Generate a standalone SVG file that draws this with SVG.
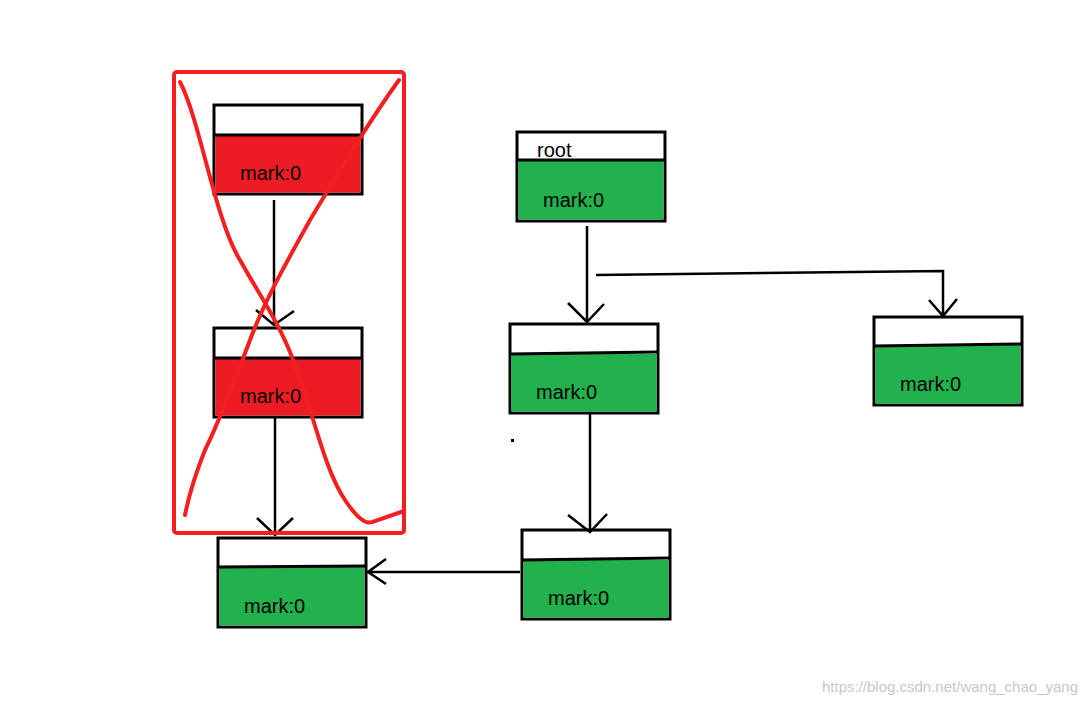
<svg xmlns="http://www.w3.org/2000/svg" width="1087" height="704" viewBox="0 0 1087 704">
<style>
.box{stroke:#000;stroke-width:3}
.g{fill:#22b14c}.r{fill:#ed1c24}
.t{font-family:"Liberation Sans",Arial,sans-serif;font-size:20px;fill:#000}
.c{fill:none;stroke:#000;stroke-width:2.5}
.x{fill:none;stroke:#f51f1f;stroke-width:4;stroke-linecap:round}
</style>
<rect width="1087" height="704" fill="#fff"/>
<g id="nodeR1"><rect class="box" x="214" y="105" width="148" height="89" fill="#fff"/><rect class="r" x="215.5" y="135" width="145" height="57.5"/><line class="box" x1="214" y1="135" x2="362" y2="135"/><text class="t" x="240" y="180">mark:0</text></g>
<g id="nodeR2"><rect class="box" x="214" y="328" width="148" height="89" fill="#fff"/><rect class="r" x="215.5" y="358" width="145" height="57.5"/><line class="box" x1="214" y1="358" x2="362" y2="358"/><text class="t" x="240" y="403">mark:0</text></g>
<g id="nodeBL"><rect class="box" x="218" y="538" width="148" height="89" fill="#fff"/><rect class="g" x="219.5" y="567" width="145" height="58.5"/><line class="box" x1="218" y1="567" x2="366" y2="566"/><text class="t" x="244" y="613">mark:0</text></g>
<g id="root"><rect class="box" x="517" y="132" width="148" height="89" fill="#fff"/><rect class="g" x="518.5" y="160" width="145" height="59.5"/><line class="box" x1="517" y1="160" x2="665" y2="160"/><text class="t" x="537" y="157">root</text><text class="t" x="543" y="207">mark:0</text></g>
<g id="nodeM"><rect class="box" x="510" y="324" width="148" height="89" fill="#fff"/><rect class="g" x="511.5" y="354" width="145" height="57.5"/><line class="box" x1="510" y1="354" x2="658" y2="352"/><text class="t" x="536" y="399">mark:0</text></g>
<g id="nodeRt"><rect class="box" x="874" y="317" width="148" height="88" fill="#fff"/><rect class="g" x="875.5" y="345" width="145" height="58.5"/><line class="box" x1="874" y1="346" x2="1022" y2="344"/><text class="t" x="900" y="391">mark:0</text></g>
<g id="nodeBM"><rect class="box" x="522" y="530" width="148" height="89" fill="#fff"/><rect class="g" x="523.5" y="560" width="145" height="57.5"/><line class="box" x1="522" y1="560" x2="670" y2="558"/><text class="t" x="548" y="605">mark:0</text></g>
<g id="connectors">
<path class="c" d="M587 226V322M568 303L587 322L604 304"/>
<path class="c" d="M596 275L943 271V316M929 300L943 316L957 299"/>
<path class="c" d="M590 413V532M568 515L590 532L607 514"/>
<path class="c" d="M520 572H368M386 559L368 572L386 584"/>
<path class="c" d="M274 200V325M256 310L274 325L294 311"/>
<path class="c" d="M275 418V535M257 518L275 535L293 518"/>
</g>
<rect x="511" y="439" width="3" height="3" fill="#000"/>
<g id="cross">
<rect class="x" x="174" y="72" width="230" height="461" rx="3"/>
<path class="x" d="M180 82C200 120 215 220 240 260C262 300 285 330 300 380C315 420 325 470 345 500C355 515 365 525 372 522L404 511"/>
<path class="x" d="M399 80C370 120 340 170 310 220C285 265 265 300 250 340C235 380 220 420 205 450C195 475 188 500 185 515"/>
</g>
<text x="1078" y="692" text-anchor="end" font-family="Liberation Sans,Arial,sans-serif" font-size="15" fill="#c8c8c8">https://blog.csdn.net/wang_chao_yang</text>
</svg>
